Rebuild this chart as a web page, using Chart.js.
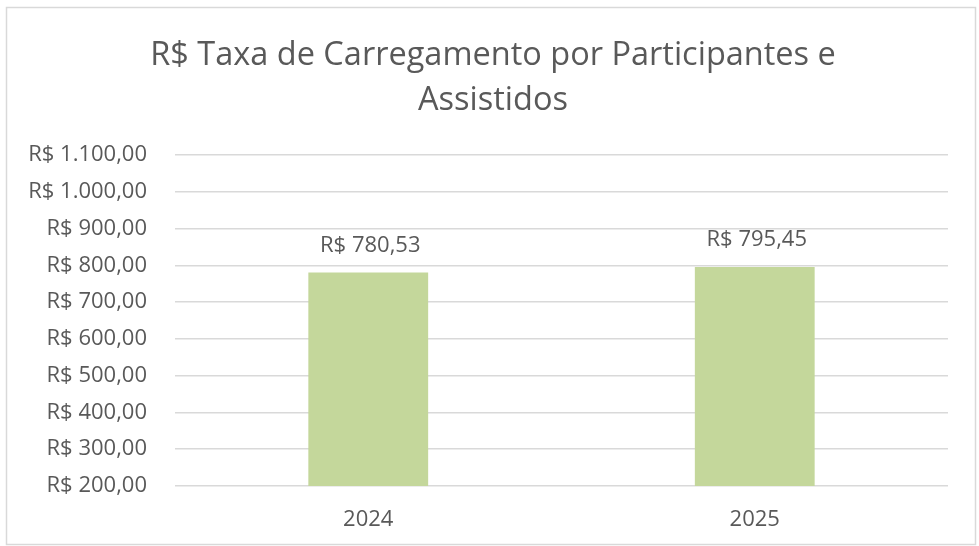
<!DOCTYPE html>
<html lang="pt-BR">
<head>
    <meta charset="UTF-8">
    <title>R$ Taxa de Carregamento por Participantes e Assistidos</title>
    <style>
        * {
            margin: 0;
            padding: 0;
            box-sizing: border-box;
        }

        body {
            background: #fff;
            width: 979px;
            height: 546px;
            overflow: hidden;
        }

        .chart-box {
            position: relative;
            width: 979px;
            height: 546px;
        }
    </style>
    <script src="https://cdn.jsdelivr.net/npm/chart.js"></script>
</head>
<body>

    <div class="chart-box">
        <canvas id="taxaChart"></canvas>
    </div>

    <script>
        // Data
        const years = ['2024', '2025'];
        const taxaValues = [780.53, 795.45];
        const titleLines = ['R$ Taxa de Carregamento por Participantes e', 'Assistidos'];
        const yMin = 200;
        const yMax = 1100;
        const yStep = 100;

        const textColor = '#595959';
        const fontFamily = "'Open Sans', 'Noto Sans', sans-serif";

        // Brazilian currency format: R$ 1.100,00
        function formatBRL(v) {
            const parts = v.toFixed(2).split('.');
            const intPart = parts[0].replace(/\B(?=(\d{3})+(?!\d))/g, '.');
            return 'R$ ' + intPart + ',' + parts[1];
        }

        // Light grey frame around the whole chart
        const frame = {
            id: 'frame',
            afterDraw(chart) {
                const ctx = chart.ctx;
                ctx.save();
                ctx.strokeStyle = '#D9D9D9';
                ctx.lineWidth = 1.5;
                ctx.strokeRect(6.5, 7.5, 969, 537);
                ctx.restore();
            }
        };

        // Value labels above the bars
        const barLabels = {
            id: 'barLabels',
            afterDatasetsDraw(chart) {
                const ctx = chart.ctx;
                const meta = chart.getDatasetMeta(0);
                ctx.save();
                ctx.font = '22px ' + fontFamily;
                ctx.fillStyle = textColor;
                ctx.textAlign = 'center';
                ctx.textBaseline = 'middle';
                meta.data.forEach((bar, i) => {
                    ctx.fillText(formatBRL(chart.data.datasets[0].data[i]), bar.x + 2, bar.y - 27);
                });
                ctx.restore();
            }
        };

        const ctx = document.getElementById('taxaChart').getContext('2d');
        const taxaChart = new Chart(ctx, {
            type: 'bar',
            data: {
                labels: years,
                datasets: [{
                    label: 'Taxa de Carregamento',
                    data: taxaValues,
                    backgroundColor: '#C4D79B',
                    borderWidth: 0,
                    categoryPercentage: 1,
                    barPercentage: 0.31
                }]
            },
            options: {
                responsive: true,
                maintainAspectRatio: false,
                animation: false,
                layout: {
                    padding: { left: 7, right: 0, top: 0, bottom: 0 }
                },
                plugins: {
                    legend: { display: false },
                    tooltip: { enabled: false },
                    title: {
                        display: true,
                        text: titleLines,
                        color: textColor,
                        font: { family: fontFamily, size: 32.5, weight: 'normal', lineHeight: '45px' },
                        padding: { top: 33, bottom: 32 }
                    }
                },
                scales: {
                    x: {
                        grid: { display: false, drawTicks: false },
                        border: { display: false },
                        ticks: {
                            color: textColor,
                            font: { family: fontFamily, size: 22 },
                            padding: 21
                        },
                        afterFit(scale) {
                            scale.height = 60;
                        }
                    },
                    y: {
                        min: yMin,
                        max: yMax,
                        grid: { color: '#D9D9D9', lineWidth: 1.5, drawTicks: false },
                        border: { display: false },
                        ticks: {
                            stepSize: yStep,
                            color: textColor,
                            font: { family: fontFamily, size: 22 },
                            padding: 28,
                            callback: (v) => formatBRL(v)
                        },
                        afterFit(scale) {
                            scale.width = 168;
                        }
                    },
                    // empty right axis, only keeps the right margin of the plot
                    yRight: {
                        position: 'right',
                        min: yMin,
                        max: yMax,
                        grid: { display: false, drawTicks: false },
                        border: { display: false },
                        ticks: { display: false },
                        afterFit(scale) {
                            scale.width = 31;
                        }
                    }
                }
            },
            plugins: [frame, barLabels]
        });
    </script>

</body>
</html>
